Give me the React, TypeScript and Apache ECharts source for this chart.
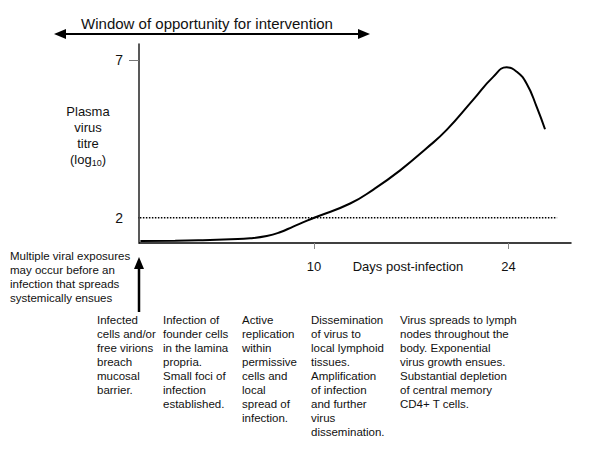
import React, { useEffect, useRef } from "react";
import * as echarts from "echarts";

// Days post-infection and plasma virus titre (log10)
const days = [-2.5, 0, 2, 4, 5.4, 6.6, 7.55, 8.5, 9.5, 10.2, 12.6, 14.3, 16.2, 18.1, 19.55, 21.45, 22.9, 23.87, 24.6, 25.3, 26.03, 26.63];
const titre = [1.26, 1.27, 1.29, 1.32, 1.35, 1.42, 1.54, 1.72, 1.91, 2.03, 2.45, 2.9, 3.5, 4.2, 4.78, 5.73, 6.46, 6.76, 6.62, 6.25, 5.51, 4.8];

const xTickValues = [10, 24];
const yLabelValues = [2, 7];
const yTickValues = [7];
const thresholdLevel = 2;
const thresholdDays = [-3.4, 27.5];
const baselineDays = [-8.4, -2.6];
const xRange = [-2.6, 28.5];
const yRange = [1.2, 7.5];

const titleText = "Window of opportunity for intervention";
const xName = "Days post-infection";
const yNameLines = ["Plasma", "virus", "titre"];
const exposureNote = ["Multiple viral exposures", "may occur before an", "infection that spreads", "systemically ensues"];
const stages = [
  ["Infected", "cells and/or", "free virions", "breach", "mucosal", "barrier."],
  ["Infection of", "founder cells", "in the lamina", "propria.", "Small foci of", "infection", "established."],
  ["Active", "replication", "within", "permissive", "cells and", "local", "spread of", "infection."],
  ["Dissemination", "of virus to", "local lymphoid", "tissues.", "Amplification", "of infection", "and further", "virus", "dissemination."],
  ["Virus spreads to lymph", "nodes throughout the", "body. Exponential", "virus growth ensues.", "Substantial depletion", "of central memory", "CD4+ T cells."],
];
const stageX = [97, 163, 242, 311, 400];

const FAMILY = "Liberation Sans";
const FONT = "Liberation Sans, Arial, sans-serif";

export default function App() {
  const ref = useRef<HTMLDivElement>(null);
  useEffect(() => {
    if (!ref.current) return;
    const chart = echarts.init(ref.current, undefined, { renderer: "svg" });
    const textStyle = (x: number, y: number, lines: string[], size = 11.5) => ({
      type: "text",
      x,
      y,
      style: {
        text: lines.join("\n"),
        font: `${size}px ${FONT}`,
        fill: "#111",
        lineHeight: 14,
        align: "left",
        verticalAlign: "top",
      },
    });
    chart.setOption({
      animation: false,
      backgroundColor: "#fff",
      textStyle: { fontFamily: FAMILY },
      grid: { left: 139, right: 29, top: 44, bottom: 207, containLabel: false },
      xAxis: {
        type: "value",
        min: xRange[0],
        max: xRange[1],
        splitLine: { show: false },
        axisLine: { onZero: false, lineStyle: { color: "#000", width: 1.5 } },
        axisTick: { customValues: xTickValues, length: 6, lineStyle: { color: "#888" } },
        axisLabel: {
          customValues: xTickValues,
          margin: 17,
          formatter: (v: number) => `{t|${v}}`,
          rich: { t: { fontSize: 13, fontFamily: FAMILY, color: "#111" } },
        },
      },
      yAxis: {
        type: "value",
        min: yRange[0],
        max: yRange[1],
        splitLine: { show: false },
        axisLine: { show: true, onZero: false, lineStyle: { color: "#222", width: 1.5 } },
        axisTick: { show: true, customValues: yTickValues, length: 10, lineStyle: { color: "#777" } },
        axisLabel: {
          customValues: yLabelValues,
          margin: 16,
          formatter: (v: number) => `{t|${v}}`,
          rich: { t: { fontSize: 14, fontFamily: FAMILY, color: "#111" } },
        },
      },
      series: [
        {
          type: "line",
          data: days.map((d, i) => [d, titre[i]]),
          smooth: 0.5,
          symbol: "none",
          lineStyle: { color: "#000", width: 2 },
          z: 5,
        },
        {
          type: "line",
          data: thresholdDays.map((d) => [d, thresholdLevel]),
          symbol: "none",
          clip: false,
          lineStyle: { color: "#000", width: 1.5, type: [1.5, 1.5] },
        },
        {
          type: "line",
          data: baselineDays.map((d) => [d, yRange[0]]),
          symbol: "none",
          clip: false,
          lineStyle: { color: "#888", width: 1, type: [4, 2] },
        },
      ],
      graphic: [
        {
          type: "text",
          x: 207,
          y: 23,
          style: { text: titleText, font: `15px ${FONT}`, fill: "#111", align: "center", verticalAlign: "middle" },
        },
        { type: "line", shape: { x1: 62, y1: 34, x2: 361, y2: 34 }, style: { stroke: "#000", lineWidth: 2 } },
        { type: "polygon", shape: { points: [[54, 34], [66, 29], [66, 39]] }, style: { fill: "#000" } },
        { type: "polygon", shape: { points: [[370, 34], [358, 29], [358, 39]] }, style: { fill: "#000" } },
        { type: "line", shape: { x1: 139, y1: 266, x2: 139, y2: 312 }, style: { stroke: "#000", lineWidth: 2.5 } },
        { type: "polygon", shape: { points: [[139, 257], [134, 269], [144, 269]] }, style: { fill: "#000" } },
        {
          type: "text",
          x: 88,
          y: 103,
          style: {
            text: yNameLines.join("\n") + "\n(log{sub|10})",
            font: `13px ${FONT}`,
            fill: "#111",
            align: "center",
            verticalAlign: "top",
            lineHeight: 16,
            rich: { sub: { fontSize: 9, fontFamily: FAMILY, verticalAlign: "bottom" } },
          },
        },
        {
          type: "text",
          x: 408,
          y: 266,
          style: { text: xName, font: `13px ${FONT}`, fill: "#111", align: "center", verticalAlign: "middle" },
        },
        textStyle(10, 249, exposureNote),
        ...stages.map((lines, i) => textStyle(stageX[i], 313, lines)),
      ],
    });
    return () => chart.dispose();
  }, []);
  return (
    <div
      ref={ref}
      style={{ width: 600, height: 450, position: "absolute", left: 0, top: 0, fontFamily: FONT }}
    />
  );
}
